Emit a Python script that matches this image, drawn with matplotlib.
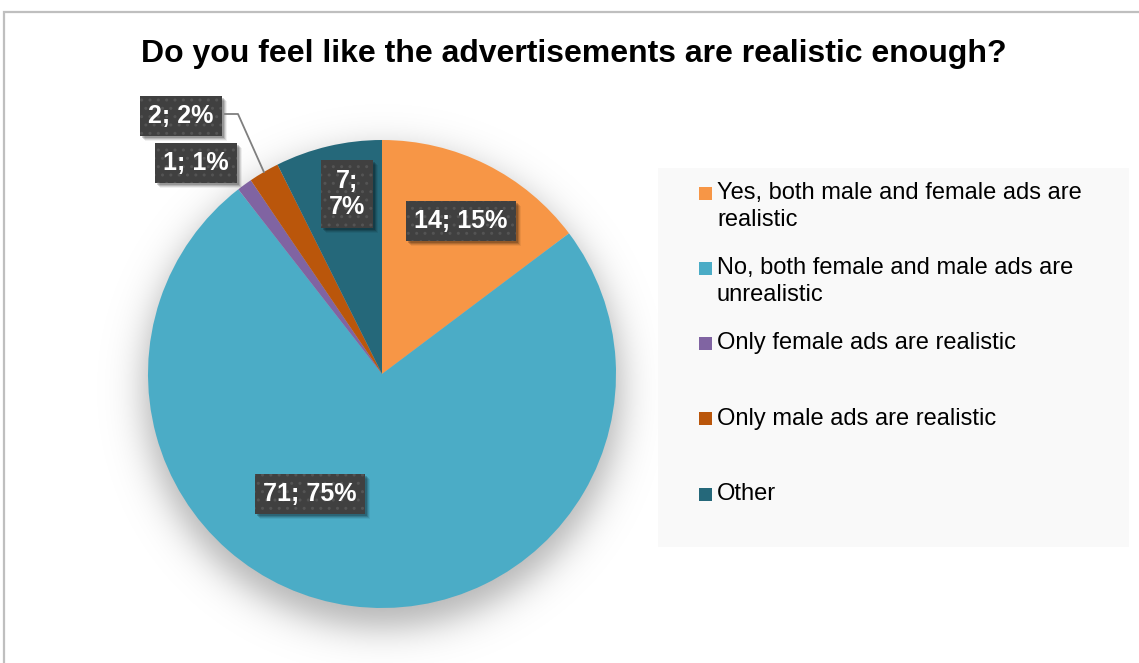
import numpy as np
import matplotlib.pyplot as plt
from matplotlib.patches import Rectangle

plt.rcParams["font.family"] = ["Liberation Sans", "DejaVu Sans"]

W, H = 1139, 663

categories = [
    "Yes, both male and female ads are\nrealistic",
    "No, both female and male ads are\nunrealistic",
    "Only female ads are realistic",
    "Only male ads are realistic",
    "Other",
]
counts = [14, 71, 1, 2, 7]
colors = ["#F79646", "#4BACC6", "#8064A2", "#BA560B", "#25687A"]

# layout in pixel coordinates (y measured from the top)
pie_cx, pie_cy, pie_r = 382, 374, 234
label_pos = [(461, 221), (310, 494), (196, 163), (181, 116), (347, 194)]
label_wrap = [False, False, False, False, True]

fig = plt.figure(figsize=(W / 100, H / 100), dpi=100)
ax = fig.add_axes([0, 0, 1, 1])

total = sum(counts)
wedges, _ = ax.pie(counts, colors=colors, startangle=90, counterclock=False,
                   center=(pie_cx, H - pie_cy), radius=pie_r,
                   wedgeprops=dict(linewidth=0, zorder=3))
ax.set_xlim(0, W)
ax.set_ylim(0, H)
ax.set_aspect("equal")
ax.axis("off")

# soft drop shadow under the pie
gx, gy = np.meshgrid(np.arange(0, W), np.arange(0, H))
d = np.hypot(gx - pie_cx, gy - (pie_cy + 15))
alpha = 0.30 / (1 + np.exp((d - (pie_r + 4)) / 11.0))
shadow = np.zeros((H, W, 4))
shadow[..., 3] = alpha
ax.imshow(shadow, extent=(0, W, 0, H), origin="upper", zorder=1,
          interpolation="bilinear")

# chart frame (top and left edges visible)
ax.plot([4, 4, W], [0, H - 12, H - 12], color="#BFBFBF", lw=1.6, zorder=0,
        solid_joinstyle="miter")

ax.text(574, H - 54, "Do you feel like the advertisements are realistic enough?",
        ha="center", va="center", fontsize=23, fontweight="bold", color="black")

# data labels in dark boxes
labels = []
for v, (lx, ly), wrap in zip(counts, label_pos, label_wrap):
    pct = round(100 * v / total)
    txt = f"{v};\n{pct}%" if wrap else f"{v}; {pct}%"
    t = ax.text(lx, H - ly, txt, ha="center", va="center", fontsize=18,
                fontweight="bold", linespacing=1.15, color="white", zorder=6,
                bbox=dict(boxstyle="square,pad=0.33", fc="#404040", ec="#545454",
                          lw=0, hatch=".."))
    labels.append(t)

# soft shadow behind each label box
fig.canvas.draw()
inv = ax.transData.inverted()
for t in labels:
    bb = t.get_bbox_patch().get_window_extent()
    (x0, y0), (x1, y1) = inv.transform([(bb.x0, bb.y0), (bb.x1, bb.y1)])
    for k, a in ((5, 0.06), (4, 0.10), (3, 0.14), (2, 0.18)):
        ax.add_patch(Rectangle((x0 + k, y0 - k), x1 - x0, y1 - y0,
                               fc=(0, 0, 0, a), ec="none", zorder=5))

# leader line for the small "Only male" slice
mid = 90 - 360 * (sum(counts[:3]) + counts[3] / 2) / total
ex = pie_cx + pie_r * np.cos(np.radians(mid))
ey = (H - pie_cy) + pie_r * np.sin(np.radians(mid))
ax.plot([225, 238, ex], [H - 114, H - 114, ey], color="#7F7F7F", lw=1.3, zorder=5)

# legend panel
ax.add_patch(Rectangle((658, H - 547), 471, 379, fc="#F9F9F9", ec="none", zorder=2))
for i, (lab, col) in enumerate(zip(categories, colors)):
    ym = 193 + 75.25 * i
    nlines = lab.count("\n") + 1
    yc = ym + 13.5 * (nlines - 1)
    ax.add_patch(Rectangle((699, H - ym - 6.5), 13, 13, fc=col, ec="none", zorder=3))
    ax.text(717, H - yc, lab, ha="left", va="center", fontsize=17,
            color="black", linespacing=1.32, zorder=3)

fig.savefig("out.png", dpi=100)
